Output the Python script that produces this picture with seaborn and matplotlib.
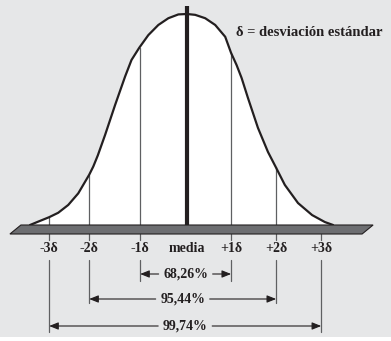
import numpy as np
import pandas as pd
import matplotlib
matplotlib.use("Agg")
import matplotlib.pyplot as plt
import seaborn as sns
from matplotlib.patches import Polygon

# ---- data (x in sigma units, y relative to peak) ----
curve_x = [-3.45, -3.27, -3.03, -2.83, -2.61, -2.39, -2.15, -2.06, -1.96, -1.80,
           -1.58, -1.36, -1.22, -1.05, -0.85, -0.63, -0.41, -0.19, 0.00, 0.18,
           0.40, 0.62, 0.84, 0.97, 1.09, 1.20, 1.34, 1.56, 1.78, 1.95,
           2.15, 2.44, 2.75, 3.03, 3.21]
curve_y = [0.000, 0.016, 0.037, 0.058, 0.095, 0.150, 0.238, 0.277, 0.330, 0.427,
           0.569, 0.704, 0.782, 0.840, 0.900, 0.948, 0.980, 0.998, 1.000, 0.996,
           0.980, 0.948, 0.892, 0.815, 0.758, 0.697, 0.602, 0.460, 0.346, 0.275,
           0.190, 0.104, 0.047, 0.014, 0.000]

marker_x = [-3.03, -2.15, -1.03, 0.0, 0.97, 1.96, 2.95]
marker_labels = ["-3δ", "-2δ", "-1δ", "media", "+1δ", "+2δ", "+3δ"]
marker_top = [0.037, 0.238, 0.840, 1.038, 0.815, 0.275, np.nan]

interval_lo = [-1.03, -2.15, -3.03]
interval_hi = [0.97, 1.96, 2.95]
interval_labels = ["68,26%", "95,44%", "99,74%"]

legend_text = "δ = desviación estándar"

# ---- style ----
sns.set_style("white")
plt.rcParams["font.family"] = ["Liberation Serif", "DejaVu Serif"]
plt.rcParams["font.weight"] = "bold"

BG = "#e6e7e8"
INK = "#231f20"
GREY_LINE = "#5f6062"
BASE_FILL = "#6d6e71"

px_per_sigma = 45.5
px_per_unit = 211.0
W, H = 391, 341
fig = plt.figure(figsize=(W / 100, H / 100), dpi=100, facecolor="white")
ax = fig.add_axes([0, 4 / H, 1, 337 / H])
ax.set_facecolor(BG)
ax.set_xlim(-187 / px_per_sigma, (W - 187) / px_per_sigma)
ax.set_ylim((225 - 337) / px_per_unit, 225 / px_per_unit)
ax.axis("off")
ax.add_patch(plt.Rectangle((0, 0), 1, 1, transform=ax.transAxes, color=BG, zorder=0))

df = pd.DataFrame({"x": curve_x, "y": curve_y})
ax.fill_between(df["x"], df["y"], 0, color="white", zorder=1)
sns.lineplot(data=df, x="x", y="y", ax=ax, color=INK, lw=1.6, zorder=4,
             sort=False, estimator=None, solid_joinstyle="round")

# base slab (parallelogram)
t = 9 / px_per_unit
slant = 11 / px_per_sigma
xl, xr = -3.65, 4.09
ax.add_patch(Polygon([(xl - slant, -t), (xl, 0), (xr, 0), (xr - slant, -t)],
                     closed=True, facecolor=BASE_FILL, edgecolor=INK, lw=0.8, zorder=5))

y_tick_end = -15 / px_per_unit
y_label = -24 / px_per_unit
y_line_start = -35 / px_per_unit

# vertical markers above the base
for mx, top in zip(marker_x, marker_top):
    if np.isnan(top):
        continue
    if mx == 0.0:
        ax.plot([mx, mx], [0, top], color=INK, lw=3.0, solid_capstyle="butt", zorder=6)
    else:
        ax.plot([mx, mx], [0, top], color=GREY_LINE, lw=0.9, zorder=3)

# ticks and labels below the base
for mx, lab in zip(marker_x, marker_labels):
    if mx != 0.0:
        ax.plot([mx, mx], [-t, y_tick_end], color=GREY_LINE, lw=0.9, zorder=3)
    ax.text(mx, y_label, lab, ha="center", va="center", fontsize=10,
            fontweight="bold", color=INK, zorder=6)

# interval brackets
arrow_y = [-49 / px_per_unit, -74 / px_per_unit, -101 / px_per_unit]
line_bottom = [-56 / px_per_unit, -78 / px_per_unit, -107 / px_per_unit]
gap = 27 / px_per_sigma
for lo, hi, lab, ay, lb in zip(interval_lo, interval_hi, interval_labels, arrow_y, line_bottom):
    mid = (lo + hi) / 2
    for xe in (lo, hi):
        ax.plot([xe, xe], [y_line_start, lb], color=GREY_LINE, lw=0.9, zorder=3)
    for xe, xs in ((lo, mid - gap), (hi, mid + gap)):
        ax.annotate("", xy=(xe, ay), xytext=(xs, ay),
                    arrowprops=dict(arrowstyle="-|>,head_length=0.55,head_width=0.22",
                                    color=INK, lw=0.8, shrinkA=0, shrinkB=0,
                                    mutation_scale=10), zorder=6)
    ax.text(mid, ay, lab, ha="center", va="center", fontsize=10,
            fontweight="bold", color=INK, zorder=6)

ax.text(2.69, 0.91, legend_text, ha="center", va="center", fontsize=10.5,
        fontweight="bold", color=INK, zorder=6)

fig.savefig("out.png", dpi=100, facecolor="white")
